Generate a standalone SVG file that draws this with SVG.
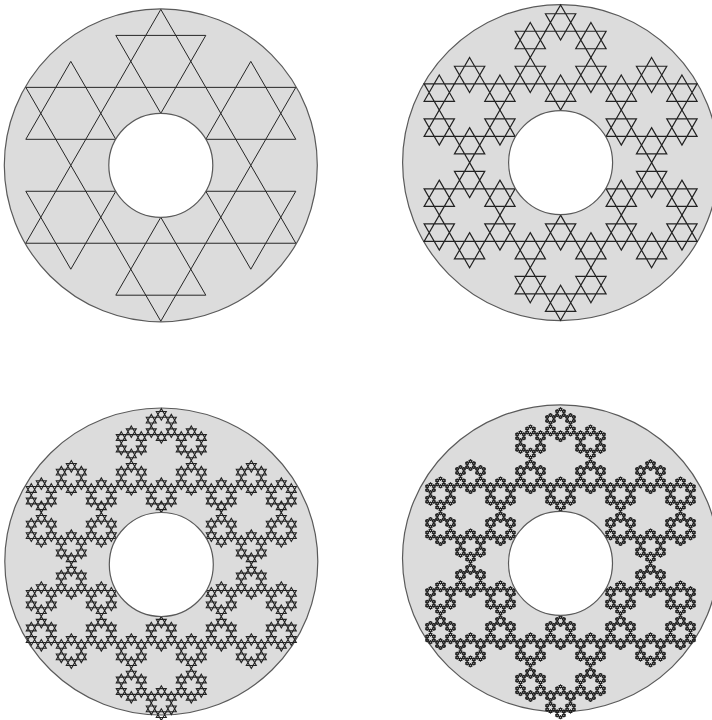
<svg xmlns="http://www.w3.org/2000/svg" xmlns:xlink="http://www.w3.org/1999/xlink" width="712" height="720" viewBox="0 0 712 720">
<style>
.disc{fill:#dcdcdc;stroke:#5a5a5a;stroke-width:1.2}
.hole{fill:#ffffff;stroke:#5a5a5a;stroke-width:1.2}
.f1{fill:none;stroke:#262626;stroke-width:1}
.f2{fill:none;stroke:#222222;stroke-width:1.2}
.f3{fill:none;stroke:#222222;stroke-width:1.1}
.f4{fill:none;stroke:#1e1e1e;stroke-width:1}
</style>
<defs>
<!-- disc 1: hexagrams of side 90 -->
<path id="h90" d="M0,-51.96L45,25.98L-45,25.98ZM0,51.96L45,-25.98L-45,-25.98Z"/>
<g id="d1">
<use xlink:href="#h90" href="#h90" x="0" y="-103.92"/>
<use xlink:href="#h90" href="#h90" x="0" y="103.92"/>
<use xlink:href="#h90" href="#h90" x="90" y="-51.96"/>
<use xlink:href="#h90" href="#h90" x="-90" y="-51.96"/>
<use xlink:href="#h90" href="#h90" x="90" y="51.96"/>
<use xlink:href="#h90" href="#h90" x="-90" y="51.96"/>
</g>
<!-- disc 2: hexagrams of side 30.33 -->
<path id="h30b" d="M0,-17.51L15.17,8.76L-15.17,8.76ZM0,17.51L15.17,-8.76L-15.17,-8.76Z"/>
<g id="d2a">
<use href="#h30b" x="0" y="-35.03"/>
<use href="#h30b" x="0" y="35.03"/>
<use href="#h30b" x="30.33" y="-17.51"/>
<use href="#h30b" x="-30.33" y="-17.51"/>
<use href="#h30b" x="30.33" y="17.51"/>
<use href="#h30b" x="-30.33" y="17.51"/>
</g>
<g id="d2">
<use href="#d2a" x="0" y="-105.08"/>
<use href="#d2a" x="0" y="105.08"/>
<use href="#d2a" x="91" y="-52.54"/>
<use href="#d2a" x="-91" y="-52.54"/>
<use href="#d2a" x="91" y="52.54"/>
<use href="#d2a" x="-91" y="52.54"/>
</g>
<!-- disc 3: hexagrams of side 10 -->
<path id="h10" d="M0,-5.774L5,2.887L-5,2.887ZM0,5.774L5,-2.887L-5,-2.887Z"/>
<g id="d3a">
<use href="#h10" x="0" y="-11.547"/>
<use href="#h10" x="0" y="11.547"/>
<use href="#h10" x="10" y="-5.774"/>
<use href="#h10" x="-10" y="-5.774"/>
<use href="#h10" x="10" y="5.774"/>
<use href="#h10" x="-10" y="5.774"/>
</g>
<g id="d3b">
<use href="#d3a" x="0" y="-34.64"/>
<use href="#d3a" x="0" y="34.64"/>
<use href="#d3a" x="30" y="-17.32"/>
<use href="#d3a" x="-30" y="-17.32"/>
<use href="#d3a" x="30" y="17.32"/>
<use href="#d3a" x="-30" y="17.32"/>
</g>
<g id="d3">
<use href="#d3b" x="0" y="-103.92"/>
<use href="#d3b" x="0" y="103.92"/>
<use href="#d3b" x="90" y="-51.96"/>
<use href="#d3b" x="-90" y="-51.96"/>
<use href="#d3b" x="90" y="51.96"/>
<use href="#d3b" x="-90" y="51.96"/>
</g>
<!-- disc 4: hexagrams of side 3.333 -->
<path id="h3" d="M0,-1.925L1.667,0.962L-1.667,0.962ZM0,1.925L1.667,-0.962L-1.667,-0.962Z"/>
<g id="d4a">
<use href="#h3" x="0" y="-3.849"/>
<use href="#h3" x="0" y="3.849"/>
<use href="#h3" x="3.333" y="-1.925"/>
<use href="#h3" x="-3.333" y="-1.925"/>
<use href="#h3" x="3.333" y="1.925"/>
<use href="#h3" x="-3.333" y="1.925"/>
</g>
<g id="d4b">
<use href="#d4a" x="0" y="-11.547"/>
<use href="#d4a" x="0" y="11.547"/>
<use href="#d4a" x="10" y="-5.774"/>
<use href="#d4a" x="-10" y="-5.774"/>
<use href="#d4a" x="10" y="5.774"/>
<use href="#d4a" x="-10" y="5.774"/>
</g>
<g id="d4c">
<use href="#d4b" x="0" y="-34.64"/>
<use href="#d4b" x="0" y="34.64"/>
<use href="#d4b" x="30" y="-17.32"/>
<use href="#d4b" x="-30" y="-17.32"/>
<use href="#d4b" x="30" y="17.32"/>
<use href="#d4b" x="-30" y="17.32"/>
</g>
<g id="d4">
<use href="#d4c" x="0" y="-103.92"/>
<use href="#d4c" x="0" y="103.92"/>
<use href="#d4c" x="90" y="-51.96"/>
<use href="#d4c" x="-90" y="-51.96"/>
<use href="#d4c" x="90" y="51.96"/>
<use href="#d4c" x="-90" y="51.96"/>
</g>
</defs>
<rect width="712" height="720" fill="#ffffff"/>
<g id="disc-1" transform="translate(160.8,165.3)">
<circle class="disc" r="156.5"/>
<use class="f1" href="#d1"/>
<circle class="hole" r="52"/>
</g>
<g id="disc-2" transform="translate(560.6,162.6)">
<circle class="disc" r="158"/>
<use class="f2" href="#d2"/>
<circle class="hole" r="52"/>
</g>
<g id="disc-3" transform="translate(161.3,564.5)">
<ellipse class="disc" cx="0" cy="-3" rx="156.5" ry="153.5"/>
<use class="f3" href="#d3"/>
<circle class="hole" r="52"/>
</g>
<g id="disc-4" transform="translate(560.5,563.3)">
<ellipse class="disc" cx="0" cy="-5" rx="158" ry="153.5"/>
<use class="f4" href="#d4"/>
<circle class="hole" r="52"/>
</g>
</svg>
